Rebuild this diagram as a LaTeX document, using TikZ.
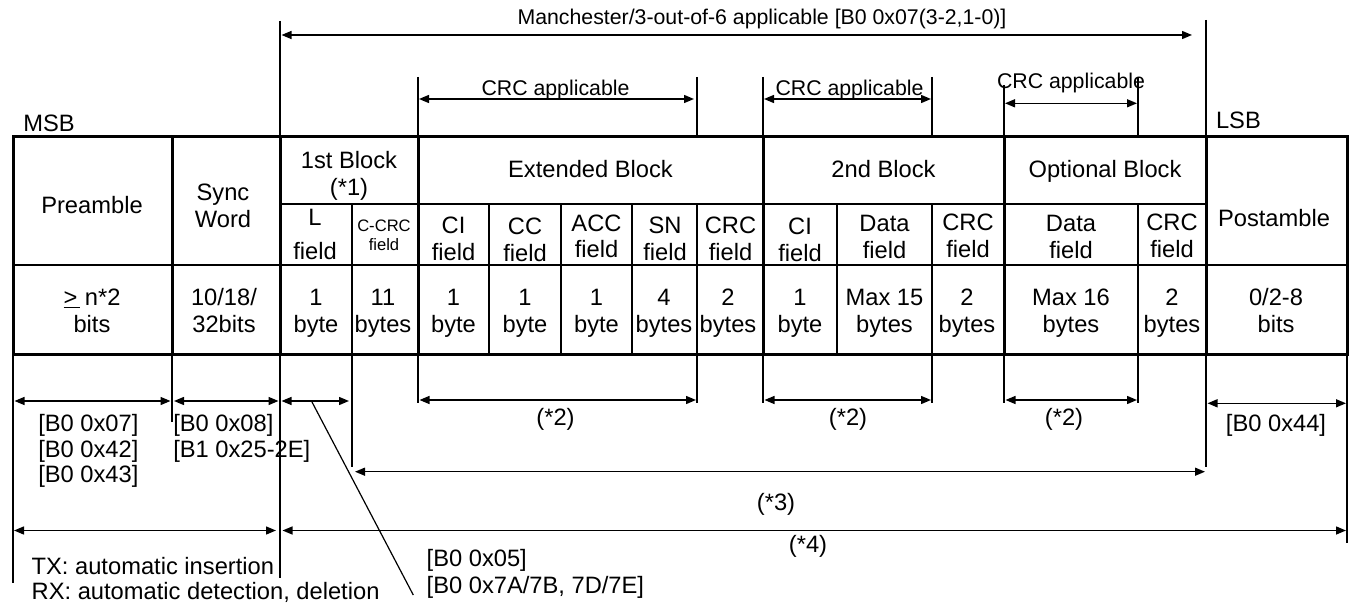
\documentclass[tikz,border=0pt]{standalone}
\usepackage{fontspec}
\setmainfont{Liberation Sans}
\usetikzlibrary{arrows.meta}
\begin{document}
\begin{tikzpicture}[x=1pt,y=-1pt,
  every node/.style={inner sep=0pt,outer sep=0pt},
  fbig/.style={font=\fontsize{23.7}{27}\selectfont},
  fmid/.style={font=\fontsize{21.3}{25}\selectfont},
  fsmall/.style={font=\fontsize{16.6}{19}\selectfont},
  cell/.style={fbig,align=center,anchor=base},
  note/.style={fbig,align=left,anchor=base west},
  crc/.style={fmid,anchor=base},
  thickl/.style={line width=3pt},
  thinl/.style={line width=1.5pt},
  guide/.style={line width=1.4pt},
  dim/.style={line width=1.4pt,{Triangle[length=10pt,width=8pt]}-{Triangle[length=10pt,width=8pt]}}
]
\useasboundingbox (0,0) rectangle (1349,604);

% ---------- table ----------
\draw[thickl] (13,137) rectangle (1347,354);
\foreach \x in {172,280,418,763,1004,1206} \draw[thickl] (\x,137) -- (\x,354);
\draw[thinl] (280,204) -- (1206,204);
\draw[thinl] (13,265) -- (1347,265);
\foreach \x in {352,489,561,632,697,837,932,1138} \draw[thinl] (\x,204) -- (\x,354);

% ---------- guide lines above ----------
\draw[guide] (280,21) -- (280,137);
\draw[guide] (1206,20) -- (1206,137);
\foreach \x in {418,697,763,932,1138} \draw[guide] (\x,77) -- (\x,137);
\draw[guide] (1004,85) -- (1004,137);

% ---------- guide lines below ----------
\draw[guide] (13,354) -- (13,583);
\draw[guide] (172,354) -- (172,422);
\draw[guide] (280,354) -- (280,578);
\draw[guide] (352,354) -- (352,467);
\foreach \x in {418,697,763,932,1004,1138} \draw[guide] (\x,354) -- (\x,403);
\draw[guide] (1206,354) -- (1206,467);
\draw[guide] (1347,354) -- (1347,543);

% ---------- dimension arrows ----------
\coordinate (manL) at (281.5,35);  \coordinate (manR) at (1192,35);
\draw[dim] (manL) -- (manR);
\coordinate (c1L) at (419,99);  \coordinate (c1R) at (694,99);
\draw[dim] (c1L) -- (c1R);
\coordinate (c2L) at (764,99);  \coordinate (c2R) at (931,99);
\draw[dim] (c2L) -- (c2R);
\coordinate (c3L) at (1005,103.3);  \coordinate (c3R) at (1137,103.3);
\draw[dim] (c3L) -- (c3R);

\coordinate (preL) at (14.5,401); \coordinate (preR) at (170.5,401);
\draw[dim] (preL) -- (preR);
\coordinate (synL) at (174,401); \coordinate (synR) at (278.5,401);
\draw[dim] (synL) -- (synR);
\coordinate (lfL) at (281.5,401); \coordinate (lfR) at (349,401);
\draw[dim] (lfL) -- (lfR);
\coordinate (e2L) at (419.5,400); \coordinate (e2R) at (696,400);
\draw[dim] (e2L) -- (e2R);
\coordinate (s2L) at (764.5,400); \coordinate (s2R) at (931,400);
\draw[dim] (s2L) -- (s2R);
\coordinate (o2L) at (1005.5,400); \coordinate (o2R) at (1137,400);
\draw[dim] (o2L) -- (o2R);
\coordinate (posL) at (1207.5,403.3); \coordinate (posR) at (1346,403.3);
\draw[dim] (posL) -- (posR);
\coordinate (s3L) at (355,471.7); \coordinate (s3R) at (1205,471.7);
\draw[dim] (s3L) -- (s3R);
\coordinate (txL) at (14,530.5); \coordinate (txR) at (276,530.5);
\draw[dim] (txL) -- (txR);
\coordinate (s4L) at (282.5,530.5); \coordinate (s4R) at (1346,530.5);
\draw[dim] (s4L) -- (s4R);

% leader line
\coordinate (ldA) at (312,402); \coordinate (ldB) at (413.3,595);
\draw[line width=1.2pt] (ldA) -- (ldB);

% ---------- top labels ----------
\node[crc] (man) at (762,25) {Manchester/3-out-of-6 applicable [B0 0x07(3-2,1-0)]};
\node[crc] (crc1) at (555.5,96) {CRC applicable};
\node[crc] (crc2) at (849.5,95.5) {CRC applicable};
\node[crc] (crc3) at (1071,88.3) {CRC applicable};
\node[fbig,anchor=base west] (msb) at (23.3,131.7) {MSB};
\node[fbig,anchor=base west] (lsb) at (1216,128.5) {LSB};

% ---------- table text (y = baseline of last line) ----------
\node[cell] (pre) at (92,213.3) {Preamble};
\node[cell] (sync) at (223,227) {Sync\\Word};
\node[cell] (blk1) at (349,195.3) {1st Block\\(*1)};
\node[cell] (ext) at (590.5,177.3) {Extended Block};
\node[cell] (blk2) at (883.5,177.3) {2nd Block};
\node[cell] (opt) at (1105,177.3) {Optional Block};
\node[cell] (post) at (1274,226.7) {Postamble};

\node[cell] (lf) at (315,259) {L\\[7pt]field};
\node[fsmall,align=center,anchor=base] (ccrc) at (384,250.7) {C-CRC\\field};
\node[cell] (ci1) at (453.5,260.3) {CI\\field};
\node[cell] (cc) at (525,261.5) {CC\\field};
\node[cell] (acc) at (596.5,258) {ACC\\field};
\node[cell] (sn) at (665,260.3) {SN\\field};
\node[cell] (crcf1) at (730.5,260.3) {CRC\\field};
\node[cell] (ci2) at (800,261.5) {CI\\field};
\node[cell] (data2) at (884.5,258.7) {Data\\field};
\node[cell] (crcf2) at (968,257) {CRC\\field};
\node[cell] (data3) at (1071,258.7) {Data\\field};
\node[cell] (crcf3) at (1172,257) {CRC\\field};

\node[cell] (vpre) at (92,332.7) {\underline{>\kern3pt}\kern4.5pt n*2\\bits};
\node[cell] (vsync) at (224,332.7) {10/18/\\32bits};
\node[cell] (vlf) at (316,332.7) {1\\byte};
\node[cell] (vccrc) at (383,332.7) {11\\bytes};
\node[cell] (vci1) at (453.5,332.7) {1\\byte};
\node[cell] (vcc) at (525,332.7) {1\\byte};
\node[cell] (vacc) at (596.5,332.7) {1\\byte};
\node[cell] (vsn) at (664,332.7) {4\\bytes};
\node[cell] (vcrc1) at (728,332.7) {2\\bytes};
\node[cell] (vci2) at (800,332.7) {1\\byte};
\node[cell] (vdata2) at (884.5,332.7) {Max 15\\bytes};
\node[cell] (vcrc2) at (967,332.7) {2\\bytes};
\node[cell] (vdata3) at (1071,332.7) {Max 16\\bytes};
\node[cell] (vcrc3) at (1172,332.7) {2\\bytes};
\node[cell] (vpost) at (1276,332.7) {0/2-8\\bits};

% ---------- bottom labels ----------
\node[note,font=\fontsize{23.7}{25.3}\selectfont] (bpre) at (38.3,482.3) {[B0 0x07]\\\relax[B0 0x42]\\\relax[B0 0x43]};
\node[note,font=\fontsize{23.7}{25.3}\selectfont] (bsync) at (173.3,457) {[B0 0x08]\\\relax[B1 0x25-2E]};
\node[cell] (n2a) at (555.5,425) {(*2)};
\node[cell] (n2b) at (848,425) {(*2)};
\node[cell] (n2c) at (1064,425) {(*2)};
\node[cell] (bpost) at (1276,431.7) {[B0 0x44]};
\node[cell] (n3) at (776,510) {(*3)};
\node[cell] (n4) at (808,552) {(*4)};
\node[note,font=\fontsize{23.7}{25.3}\selectfont] (txrx) at (31.7,599.3) {TX: automatic insertion\\RX: automatic detection, deletion};
\node[note,font=\fontsize{23.7}{26.7}\selectfont] (bl) at (426.7,593.4) {[B0 0x05]\\\relax[B0 0x7A/7B, 7D/7E]};
\end{tikzpicture}
\end{document}
